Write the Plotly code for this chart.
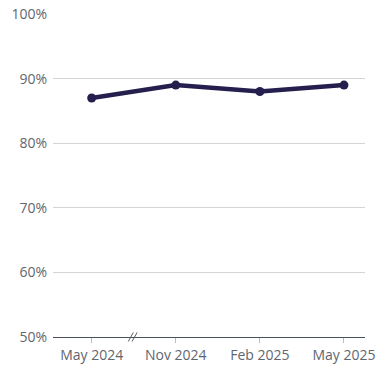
import plotly.graph_objects as go

categories = ["May 2024", "Nov 2024", "Feb 2025", "May 2025"]
values = [87, 89, 88, 89]

fig = go.Figure()
fig.add_trace(go.Scatter(
    x=categories, y=values, mode="lines+markers",
    line=dict(color="#241f4d", width=4.5),
    marker=dict(size=9, color="#241f4d"),
    hoverinfo="skip", showlegend=False,
))

# axis break marker between first two categories
for dx in (-0.045, 0.0):
    fig.add_shape(type="line", xref="x", yref="paper",
                  x0=0.48 + dx, x1=0.54 + dx, y0=-0.014, y1=0.014,
                  line=dict(color="#555b66", width=1))

fig.update_layout(
    width=391, height=380,
    margin=dict(l=53, r=26, t=14, b=43, autoexpand=False),
    plot_bgcolor="white", paper_bgcolor="white",
    font=dict(family="Open Sans", size=14, color="#5f6670"),
)
fig.update_xaxes(
    type="category", range=[-0.46, 3.25], automargin=False,
    showline=True, linecolor="#4a505a", linewidth=1,
    ticks="outside", ticklen=5, tickcolor="#b8bcc4",
    showgrid=False, tickfont=dict(size=14, color="#5f6670"),
)
fig.update_yaxes(
    range=[50, 100], dtick=10, ticksuffix="%", automargin=False,
    showgrid=True, gridcolor="#d4d4d4", gridwidth=1,
    zeroline=False, showline=False, ticklabelstandoff=5,
    tickfont=dict(size=14, color="#5f6670"),
)
fig.write_html("out.html")
